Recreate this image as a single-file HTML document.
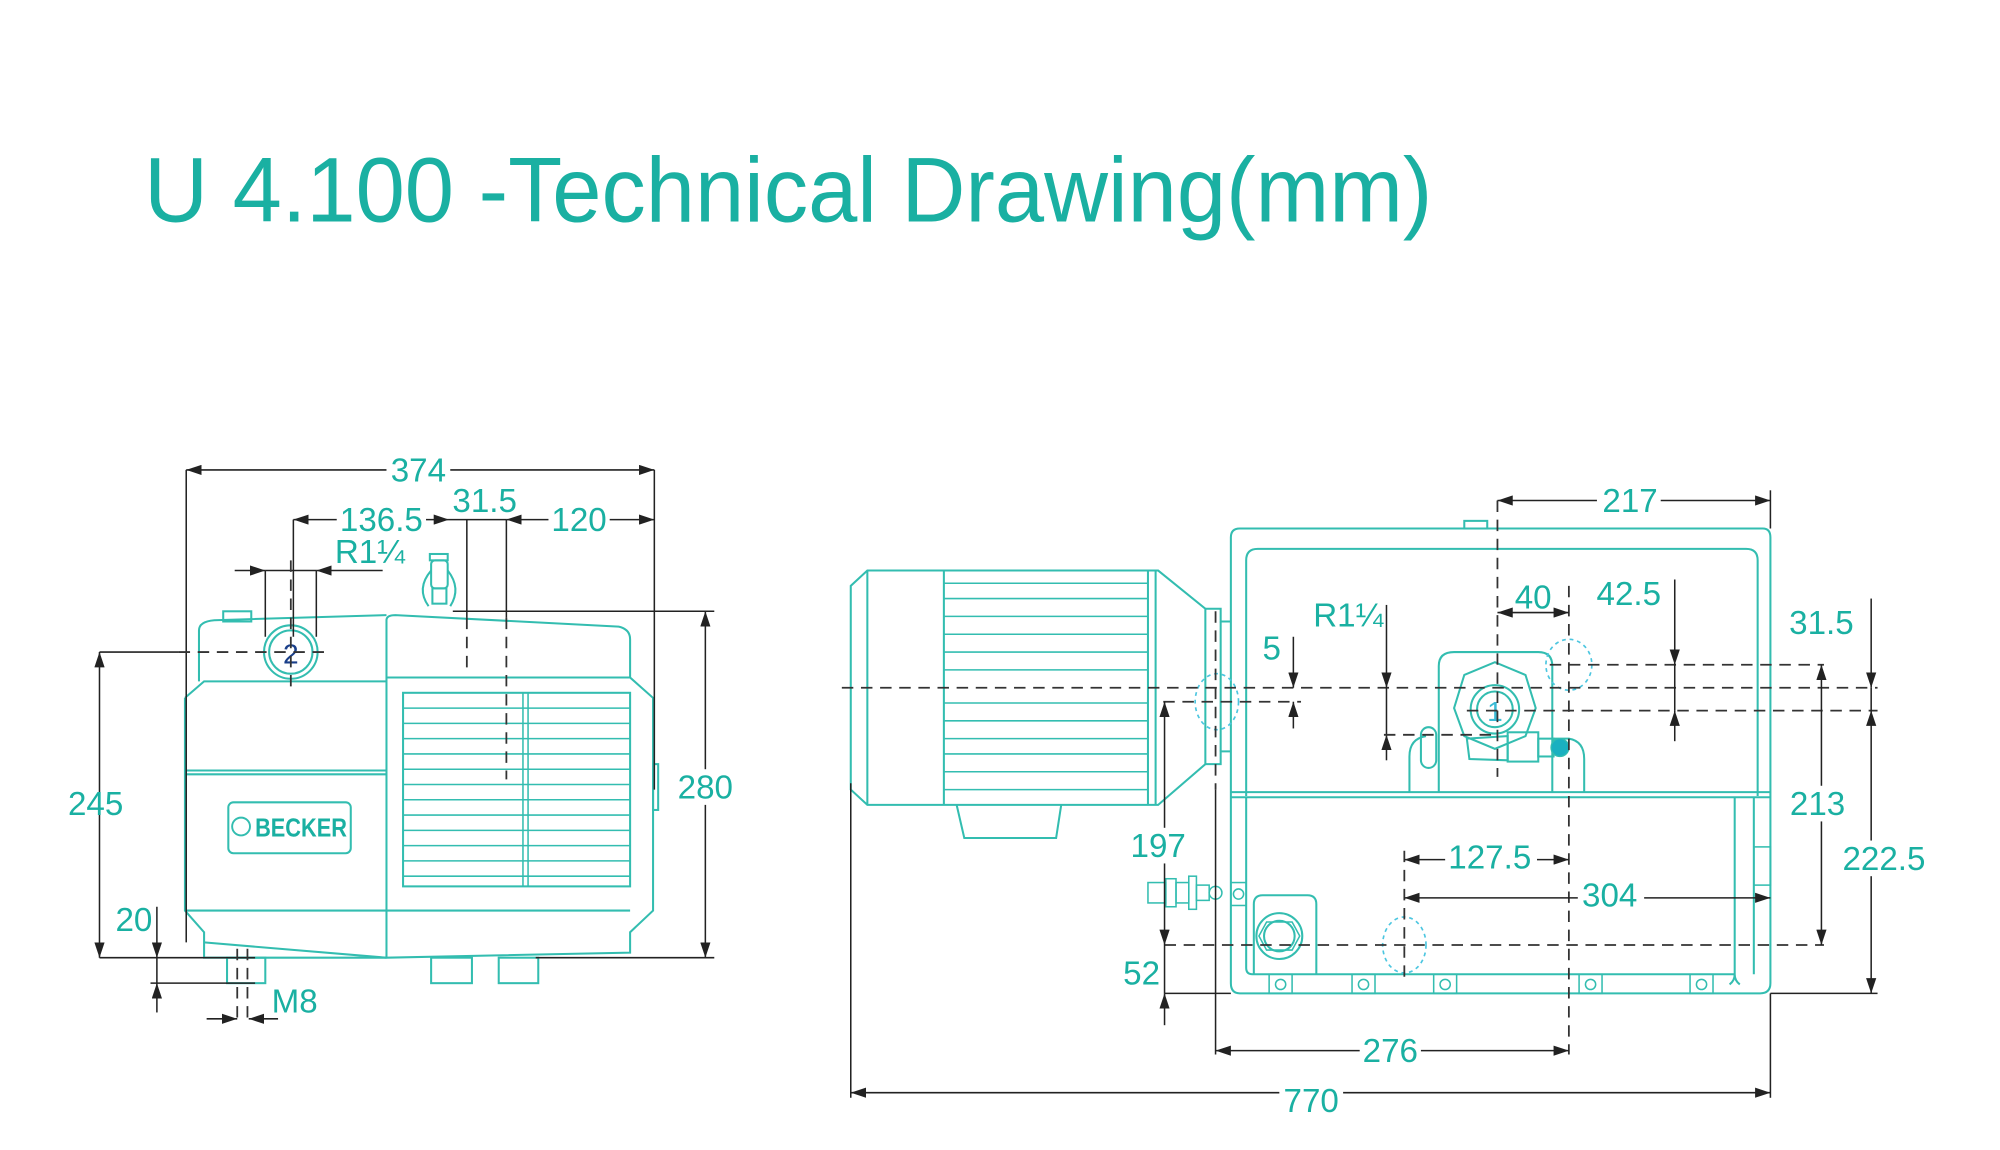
<!DOCTYPE html>
<html><head><meta charset="utf-8"><style>
html,body{margin:0;padding:0;background:#fff;}
svg{display:block;}
.t{fill:none;stroke:#33bdb0;stroke-width:1.6;}
.tt{fill:none;stroke:#33bdb0;stroke-width:1.2;}
.d{stroke:#222;stroke-width:1.2;fill:none;}
.dash{stroke:#333;stroke-width:1.4;stroke-dasharray:9 6;fill:none;}
.dot{fill:none;stroke:#4cc6e0;stroke-width:1.3;stroke-dasharray:3 3;}
text{font-family:"Liberation Sans",sans-serif;fill:#1ab0a2;}
.l{font-size:26px;text-anchor:middle;}
</style></head><body>
<svg width="2000" height="1150" viewBox="0 0 1568 903" preserveAspectRatio="none" xmlns="http://www.w3.org/2000/svg">
<defs>
<marker id="a" viewBox="0 0 12 8" refX="12" refY="4" markerWidth="12" markerHeight="8" markerUnits="userSpaceOnUse" orient="auto-start-reverse"><path d="M0,0L12,4L0,8z" fill="#222"/></marker>
</defs>
<rect width="1568" height="903" fill="#fff"/>
<text x="113" y="174" font-size="72" textLength="1010" lengthAdjust="spacingAndGlyphs">U 4.100 -Technical Drawing(mm)</text>

<g>
<path class="t" d="M156,535 V495 Q156,488 168,487 L303,483"/>
<rect class="t" x="175" y="480" width="22" height="8"/>
<path class="t" d="M145,548 L160,535 H303"/>
<path class="t" d="M145,548 V715 L160,732 V752 H303"/>
<line class="t" x1="145" y1="605" x2="303" y2="605"/>
<line class="t" x1="145" y1="608" x2="303" y2="608"/>
<line class="t" x1="145" y1="715" x2="303" y2="715"/>
<path class="t" d="M303,752 V487 Q303,483 310,483 L485,492 Q494,494 494,502 V532 L512,548 V715 L494,732 V748 L303,752"/>
<line class="t" x1="303" y1="532" x2="494" y2="532"/>
<line class="t" x1="494" y1="715" x2="303" y2="715"/>
<line class="t" x1="160" y1="740" x2="303" y2="752"/>
<rect class="t" x="316" y="544" width="178" height="152"/>
<g class="tt">
<line x1="316" y1="556" x2="494" y2="556"/><line x1="316" y1="568" x2="494" y2="568"/><line x1="316" y1="580" x2="494" y2="580"/><line x1="316" y1="592" x2="494" y2="592"/><line x1="316" y1="604" x2="494" y2="604"/><line x1="316" y1="616" x2="494" y2="616"/><line x1="316" y1="628" x2="494" y2="628"/><line x1="316" y1="640" x2="494" y2="640"/><line x1="316" y1="652" x2="494" y2="652"/><line x1="316" y1="664" x2="494" y2="664"/><line x1="316" y1="676" x2="494" y2="676"/><line x1="316" y1="688" x2="494" y2="688"/>
<line x1="410" y1="544" x2="410" y2="696"/><line x1="414" y1="544" x2="414" y2="696"/>
</g>
<rect class="t" x="512" y="600" width="4" height="36"/>
<rect class="t" x="179" y="630" width="96" height="40" rx="4"/>
<circle cx="189" cy="649" r="7" fill="none" stroke="#33bdb0" stroke-width="1.5"/>
<text x="200" y="657" font-size="20" font-weight="bold" textLength="72" lengthAdjust="spacingAndGlyphs">BECKER</text>
<circle class="t" cx="228" cy="512" r="21"/>
<circle class="t" cx="228" cy="512" r="17"/>
<text x="228" y="521" font-size="22" text-anchor="middle" style="fill:#1a3f8a">2</text>
<rect class="t" x="178" y="752" width="30" height="20"/>
<rect class="t" x="338" y="752" width="32" height="20"/>
<rect class="t" x="391" y="752" width="31" height="20"/>
<rect class="t" x="337" y="435" width="14" height="5"/>
<rect class="t" x="338" y="440" width="13" height="22" rx="3"/>
<rect class="t" x="339" y="462" width="11" height="12"/>
<path class="t" d="M338,448 Q326,462 336,476 M351,448 Q362,462 353,476"/>
</g>
<line class="d" x1="146" y1="369" x2="146" y2="740"/>
<line class="d" x1="513" y1="369" x2="513" y2="620"/>
<line class="d" x1="146" y1="369" x2="513" y2="369" marker-start="url(#a)" marker-end="url(#a)"/>
<rect x="303" y="355" width="50" height="26" fill="#fff"/><text class="l" x="328" y="378">374</text>
<line class="d" x1="230" y1="408" x2="230" y2="500"/>
<line class="d" x1="230" y1="408" x2="352" y2="408" marker-start="url(#a)" marker-end="url(#a)"/>
<line class="d" x1="397" y1="408" x2="513" y2="408" marker-start="url(#a)" marker-end="url(#a)"/>
<line class="d" x1="352" y1="408" x2="397" y2="408"/>
<rect x="264" y="395" width="70" height="26" fill="#fff"/><text class="l" x="299" y="417">136.5</text>
<rect x="430" y="395" width="48" height="26" fill="#fff"/><text class="l" x="454" y="417">120</text>
<text class="l" x="380" y="402">31.5</text>
<line class="d" x1="366" y1="408" x2="366" y2="485"/><line class="dash" x1="366" y1="485" x2="366" y2="525"/>
<line class="d" x1="397" y1="408" x2="397" y2="485"/><line class="dash" x1="397" y1="485" x2="397" y2="612"/>
<line class="d" x1="184" y1="448" x2="208" y2="448" marker-end="url(#a)"/>
<line class="d" x1="300" y1="448" x2="248" y2="448" marker-end="url(#a)"/>
<line class="d" x1="208" y1="448" x2="248" y2="448"/>
<line class="d" x1="208" y1="448" x2="208" y2="500"/><line class="d" x1="248" y1="448" x2="248" y2="500"/>
<text class="l" x="290" y="442">R1¼</text>
<line class="dash" x1="228" y1="440" x2="228" y2="542"/>
<line class="d" x1="78" y1="512" x2="140" y2="512"/>
<line class="dash" x1="140" y1="512" x2="260" y2="512"/>
<line class="d" x1="78" y1="512" x2="78" y2="752" marker-start="url(#a)" marker-end="url(#a)"/>
<line class="d" x1="78" y1="752" x2="200" y2="752"/>
<text class="l" x="75" y="640">245</text>
<line class="d" x1="355" y1="480" x2="560" y2="480"/>
<line class="d" x1="420" y1="752" x2="560" y2="752"/>
<line class="d" x1="553" y1="480" x2="553" y2="752" marker-start="url(#a)" marker-end="url(#a)"/>
<rect x="528" y="604" width="50" height="28" fill="#fff"/><text class="l" x="553" y="627">280</text>
<line class="d" x1="123" y1="712" x2="123" y2="752" marker-end="url(#a)"/>
<line class="d" x1="123" y1="795" x2="123" y2="772" marker-end="url(#a)"/>
<line class="d" x1="123" y1="752" x2="123" y2="772"/>
<line class="d" x1="118" y1="772" x2="200" y2="772"/>
<text class="l" x="105" y="731">20</text>
<line class="dash" x1="186" y1="745" x2="186" y2="803"/><line class="dash" x1="194" y1="745" x2="194" y2="803"/>
<line class="d" x1="162" y1="800" x2="186" y2="800" marker-end="url(#a)"/>
<line class="d" x1="218" y1="800" x2="195" y2="800" marker-end="url(#a)"/>
<text class="l" x="231" y="795">M8</text>

<path class="t" d="M680,448 H908 L945,478 V600 L908,632 H680 L667,620 V460 Z"/>
<line class="t" x1="680" y1="448" x2="680" y2="632"/>
<line class="t" x1="740" y1="448" x2="740" y2="632"/>
<line class="t" x1="900" y1="448" x2="900" y2="632"/>
<line class="t" x1="906" y1="448" x2="906" y2="632"/>
<g class="tt">
<line x1="740" y1="458" x2="900" y2="458"/><line x1="740" y1="470" x2="900" y2="470"/><line x1="740" y1="484" x2="900" y2="484"/><line x1="740" y1="498" x2="900" y2="498"/><line x1="740" y1="512" x2="900" y2="512"/><line x1="740" y1="526" x2="900" y2="526"/><line x1="740" y1="552" x2="900" y2="552"/><line x1="740" y1="566" x2="900" y2="566"/><line x1="740" y1="580" x2="900" y2="580"/><line x1="740" y1="592" x2="900" y2="592"/><line x1="740" y1="606" x2="900" y2="606"/><line x1="740" y1="620" x2="900" y2="620"/>
</g>
<path class="t" d="M945,478 H957 V488 H965 M945,600 H957 V590 H965"/>
<path class="t" d="M957,488 V590"/>
<path class="t" d="M750,632 L756,658 H828 L832,632"/>
<path class="t" d="M972,415 H1382 Q1388,415 1388,422 V772 Q1388,780 1380,780 H972 Q965,780 965,772 V422 Q965,415 972,415 Z"/>
<rect class="t" x="1148" y="409" width="18" height="6"/>
<path class="t" d="M977,625 V440 Q977,431 986,431 H1369 Q1378,431 1378,440 V625"/>
<line class="t" x1="965" y1="622" x2="1388" y2="622"/>
<line class="t" x1="965" y1="626" x2="1388" y2="626"/>
<path class="t" d="M1360,626 V765 Q1360,770 1356,773 M1360,765 Q1360,770 1364,773 M1375,626 V765"/>
<rect class="tt" x="1375" y="665" width="13" height="30"/>
<path class="t" d="M977,626 V760 Q977,765 982,765 H1360"/>
<path class="t" d="M983,765 V710 Q983,703 990,703 H1025 Q1032,703 1032,710 V765"/>
<circle class="t" cx="1003" cy="735" r="18"/><circle class="t" cx="1003" cy="735" r="12"/>
<path class="tt" d="M993,724 L1013,724 L1019,735 L1013,746 L993,746 L987,735 Z"/>
<g class="tt">
<rect x="995" y="765" width="18" height="15"/><circle cx="1004" cy="773" r="4"/>
<rect x="1060" y="765" width="18" height="15"/><circle cx="1069" cy="773" r="4"/>
<rect x="1124" y="765" width="18" height="15"/><circle cx="1133" cy="773" r="4"/>
<rect x="1238" y="765" width="18" height="15"/><circle cx="1247" cy="773" r="4"/>
<rect x="1325" y="765" width="18" height="15"/><circle cx="1334" cy="773" r="4"/>
<rect x="965" y="693" width="12" height="18"/><circle cx="971" cy="702" r="4"/>
</g>
<g class="tt">
<rect x="900" y="693" width="14" height="16"/><rect x="914" y="690" width="8" height="22"/><rect x="922" y="693" width="10" height="16"/><rect x="932" y="688" width="6" height="26"/><rect x="938" y="695" width="10" height="12"/><circle cx="953" cy="701" r="5"/>
</g>
<path class="t" d="M1128,622 V523 Q1128,512 1140,512 H1206 Q1217,512 1217,523 V622"/>
<path class="t" d="M1105,622 V594 Q1105,580 1118,578"/>
<path class="t" d="M1217,580 H1230 Q1242,582 1242,596 V622"/>
<path class="t" d="M1148,530 L1172,520 L1196,530 L1204,556 L1196,578 L1172,588 L1148,578 L1140,556 Z"/>
<circle class="t" cx="1172" cy="557" r="19"/><circle class="t" cx="1172" cy="557" r="14"/>
<text x="1172" y="566" font-size="22" text-anchor="middle" style="fill:#3bbbd6">1</text>
<rect class="t" x="1114" y="571" width="12" height="32" rx="6"/>
<path class="t" d="M1150,580 L1182,578 V597 L1152,596 Z"/>
<rect class="t" x="1182" y="575" width="24" height="23"/>
<rect class="t" x="1206" y="580" width="12" height="14"/>
<circle cx="1223" cy="587" r="7" fill="#1ab0c0" stroke="#33bdb0"/>
<ellipse class="dot" cx="1230" cy="522" rx="18" ry="20"/>
<ellipse class="dot" cx="954" cy="551" rx="17" ry="22"/>
<ellipse class="dot" cx="1101" cy="742" rx="17" ry="22"/>
<line class="dash" x1="660" y1="540" x2="1472" y2="540"/>
<line class="dash" x1="1215" y1="522" x2="1430" y2="522"/>
<line class="dash" x1="1150" y1="558" x2="1472" y2="558"/>
<line class="dash" x1="912" y1="551" x2="1020" y2="551"/>
<line class="dash" x1="913" y1="742" x2="1430" y2="742"/>
<line class="dash" x1="1174" y1="393" x2="1174" y2="610"/>
<line class="dash" x1="1230" y1="460" x2="1230" y2="828"/>
<line class="dash" x1="1101" y1="668" x2="1101" y2="768"/>
<line class="dash" x1="953" y1="480" x2="953" y2="620"/>
<line class="d" x1="953" y1="620" x2="953" y2="828"/>
<line class="d" x1="1388" y1="385" x2="1388" y2="415"/>
<line class="d" x1="1174" y1="393" x2="1388" y2="393" marker-start="url(#a)" marker-end="url(#a)"/>
<rect x="1252" y="380" width="50" height="26" fill="#fff"/><text class="l" x="1278" y="402">217</text>
<line class="d" x1="1174" y1="481" x2="1230" y2="481" marker-start="url(#a)" marker-end="url(#a)"/>
<text class="l" x="1202" y="478">40</text>
<line class="d" x1="1313" y1="455" x2="1313" y2="522" marker-end="url(#a)"/>
<line class="d" x1="1313" y1="582" x2="1313" y2="558" marker-end="url(#a)"/>
<line class="d" x1="1313" y1="522" x2="1313" y2="558"/>
<text class="l" x="1277" y="475">42.5</text>
<line class="d" x1="1467" y1="470" x2="1467" y2="540" marker-end="url(#a)"/>
<line class="d" x1="1467" y1="540" x2="1467" y2="558"/>
<text class="l" x="1428" y="498">31.5</text>
<line class="d" x1="1428" y1="522" x2="1428" y2="742" marker-start="url(#a)" marker-end="url(#a)"/>
<rect x="1402" y="617" width="50" height="28" fill="#fff"/><text class="l" x="1425" y="640">213</text>
<line class="d" x1="1467" y1="558" x2="1467" y2="780" marker-start="url(#a)" marker-end="url(#a)"/>
<rect x="1442" y="660" width="70" height="28" fill="#fff"/><text class="l" x="1477" y="683">222.5</text>
<line class="d" x1="1388" y1="780" x2="1472" y2="780"/>
<line class="d" x1="1087" y1="475" x2="1087" y2="540" marker-end="url(#a)"/>
<line class="d" x1="1087" y1="597" x2="1087" y2="577" marker-end="url(#a)"/>
<line class="d" x1="1087" y1="540" x2="1087" y2="577"/>
<line class="dash" x1="1085" y1="577" x2="1170" y2="577"/>
<text class="l" x="1057" y="492">R1¼</text>
<line class="d" x1="1014" y1="500" x2="1014" y2="540" marker-end="url(#a)"/>
<line class="d" x1="1014" y1="572" x2="1014" y2="551" marker-end="url(#a)"/>
<text class="l" x="997" y="518">5</text>
<line class="d" x1="913" y1="551" x2="913" y2="742" marker-start="url(#a)" marker-end="url(#a)"/>
<rect x="885" y="650" width="50" height="28" fill="#fff"/><text class="l" x="908" y="673">197</text>
<line class="d" x1="913" y1="742" x2="913" y2="780"/>
<line class="d" x1="913" y1="805" x2="913" y2="780" marker-end="url(#a)"/>
<line class="d" x1="913" y1="780" x2="965" y2="780"/>
<text class="l" x="895" y="773">52</text>
<line class="d" x1="1101" y1="675" x2="1230" y2="675" marker-start="url(#a)" marker-end="url(#a)"/>
<rect x="1133" y="660" width="72" height="26" fill="#fff"/><text class="l" x="1168" y="682">127.5</text>
<line class="d" x1="1101" y1="705" x2="1388" y2="705" marker-start="url(#a)" marker-end="url(#a)"/>
<rect x="1237" y="690" width="52" height="26" fill="#fff"/><text class="l" x="1262" y="712">304</text>
<line class="d" x1="953" y1="825" x2="1230" y2="825" marker-start="url(#a)" marker-end="url(#a)"/>
<rect x="1066" y="811" width="48" height="26" fill="#fff"/><text class="l" x="1090" y="834">276</text>
<line class="d" x1="667" y1="615" x2="667" y2="862"/>
<line class="d" x1="1388" y1="780" x2="1388" y2="862"/>
<line class="d" x1="667" y1="858" x2="1388" y2="858" marker-start="url(#a)" marker-end="url(#a)"/>
<rect x="1003" y="846" width="50" height="26" fill="#fff"/><text class="l" x="1028" y="873">770</text>
</svg>
</body></html>
